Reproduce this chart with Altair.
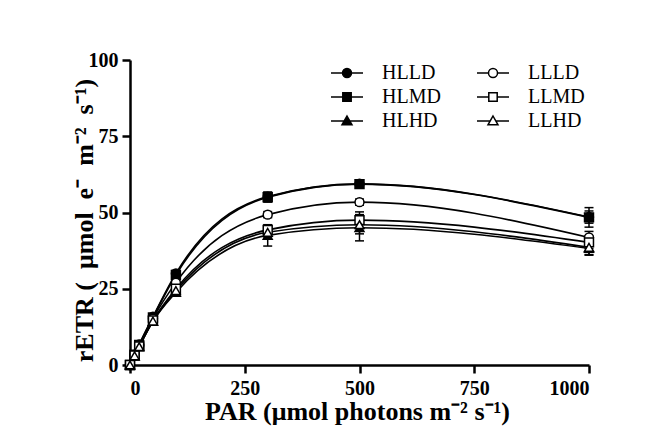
import altair as alt
import pandas as pd

par = [0, 10, 20, 50, 100, 300, 500, 1000]
groups = ["HLLD", "HLMD", "HLHD", "LLLD", "LLMD", "LLHD"]
means = {
    "HLLD": [0, 3.4, 6.7, 15.8, 30.0, 55.2, 59.4, 48.5],
    "HLMD": [0, 3.4, 6.6, 15.6, 29.5, 55.0, 59.3, 48.4],
    "HLHD": [0, 3.0, 6.0, 14.3, 23.8, 42.5, 45.0, 38.2],
    "LLLD": [0, 3.2, 6.3, 15.2, 27.0, 49.3, 53.4, 41.8],
    "LLMD": [0, 3.1, 6.1, 14.6, 25.0, 44.3, 47.5, 40.2],
    "LLHD": [0, 3.0, 6.0, 14.4, 24.4, 43.5, 46.0, 38.6],
}
errs = {
    "HLLD": [0.2, 0.3, 0.4, 0.8, 1.0, 1.5, 0.8, 2.0],
    "HLMD": [0.2, 0.3, 0.4, 0.8, 1.0, 1.6, 0.8, 3.2],
    "HLHD": [0.2, 0.3, 0.4, 0.8, 1.0, 3.5, 4.3, 2.0],
    "LLLD": [0.2, 0.3, 0.4, 0.8, 1.0, 1.0, 1.0, 2.0],
    "LLMD": [0.2, 0.3, 0.4, 0.8, 1.0, 1.5, 2.7, 2.0],
    "LLHD": [0.2, 0.3, 0.4, 0.8, 1.0, 1.5, 3.0, 2.6],
}

rows = []
for g in groups:
    for p, m, e in zip(par, means[g], errs[g]):
        rows.append({"group": g, "par": p, "val": m, "lo": m - e, "hi": m + e})
df = pd.DataFrame(rows)

fill_map = {"HLLD": "black", "HLMD": "black", "HLHD": "black",
            "LLLD": "white", "LLMD": "white", "LLHD": "white"}
shape_map = {"HLLD": "circle", "LLLD": "circle", "HLMD": "square",
             "LLMD": "square", "HLHD": "triangle-up", "LLHD": "triangle-up"}
# legend glyphs: marker with a short line through it (symbol unit = 10 px)
circ = "M-1.6,0H-0.45M0.45,0H1.6M0.45,0A0.45,0.45 0 1,1 -0.45,0A0.45,0.45 0 1,1 0.45,0Z"
sq = "M-1.6,0H-0.42M0.42,0H1.6M-0.42,-0.42H0.42V0.42H-0.42Z"
tri = "M-1.6,0H-0.28M0.28,0H1.6M0,-0.5L0.5,0.38H-0.5Z"
legend_path = {"circle": circ, "square": sq, "triangle-up": tri}

gap = "\u2002"
y_title = "rETR (" + gap + "μmol" + gap + "e⁻" + gap + "m⁻²" + gap + "s⁻¹)"

xenc = alt.X("par:Q", scale=alt.Scale(domain=[0, 1000], nice=False),
             axis=alt.Axis(values=[0, 250, 500, 750, 1000], format="d",
                           title="PAR (μmol photons m⁻² s⁻¹)", labelPadding=5,
                           titleX=227, titleY=54, titleBaseline="alphabetic",
                           titleAlign="center"))
yenc = alt.Y("val:Q", scale=alt.Scale(domain=[0, 100], nice=False),
             axis=alt.Axis(values=[0, 25, 50, 75, 100],
                           title=y_title, labelPadding=4,
                           titleX=-38, titleY=160, titleBaseline="alphabetic",
                           titleAlign="center"))

base = alt.Chart(df)

lines = base.mark_line(interpolate="monotone", color="black", strokeWidth=1.6).encode(
    x=xenc, y=yenc, detail="group:N")

bars = base.mark_rule(color="black", strokeWidth=1.5).encode(
    x="par:Q", y="lo:Q", y2="hi:Q")
cap_lo = base.mark_point(shape="M-1,0H1", size=81, stroke="black", strokeWidth=1.5,
                         opacity=1).encode(x="par:Q", y="lo:Q")
cap_hi = base.mark_point(shape="M-1,0H1", size=81, stroke="black", strokeWidth=1.5,
                         opacity=1).encode(x="par:Q", y="hi:Q")

points = base.mark_point(filled=True, stroke="black", strokeWidth=1.5, size=80, opacity=1).encode(
    x="par:Q", y="val:Q",
    shape=alt.Shape("group:N", scale=alt.Scale(domain=groups, range=[shape_map[g] for g in groups]),
                    legend=None),
    fill=alt.Fill("group:N", scale=alt.Scale(domain=groups, range=[fill_map[g] for g in groups]),
                  legend=None),
)

leg = alt.Legend(title=None, orient="none", legendX=206, legendY=2, columns=2,
                 columnPadding=33, rowPadding=3, labelFont="Liberation Serif",
                 labelFontSize=20, labelColor="black", symbolSize=400,
                 symbolStrokeWidth=1.5, symbolStrokeColor="black", labelOffset=24)

legend_layer = base.transform_filter("false").mark_point(
    filled=False, strokeWidth=1.5, opacity=1).encode(
    x="par:Q", y="val:Q",
    shape=alt.Shape("group:N", scale=alt.Scale(domain=groups,
                    range=[legend_path[shape_map[g]] for g in groups]), legend=leg),
    fill=alt.Fill("group:N", scale=alt.Scale(domain=groups,
                  range=[fill_map[g] for g in groups]), legend=leg),
    stroke=alt.Stroke("group:N", scale=alt.Scale(domain=groups,
                      range=["black"] * len(groups)), legend=leg),
)

chart = alt.layer(lines, bars, cap_lo, cap_hi, points, legend_layer).resolve_scale(
    shape="independent", fill="independent", stroke="independent"
).properties(
    width=459, height=305,
    autosize=alt.AutoSizeParams(type="none"),
    padding={"left": 122, "top": 52, "right": 51, "bottom": 63},
).configure_view(stroke=None).configure_axis(
    grid=False, domainColor="black", domainWidth=2.5, tickColor="black", tickWidth=2.5,
    tickSize=8, labelFont="Liberation Serif", labelFontWeight="bold", labelFontSize=20,
    labelColor="black", titleFont="Liberation Serif", titleFontWeight="bold",
    titleFontSize=26, titleColor="black",
)

chart.save("out.html", embed_options={"renderer": "svg", "actions": False})
